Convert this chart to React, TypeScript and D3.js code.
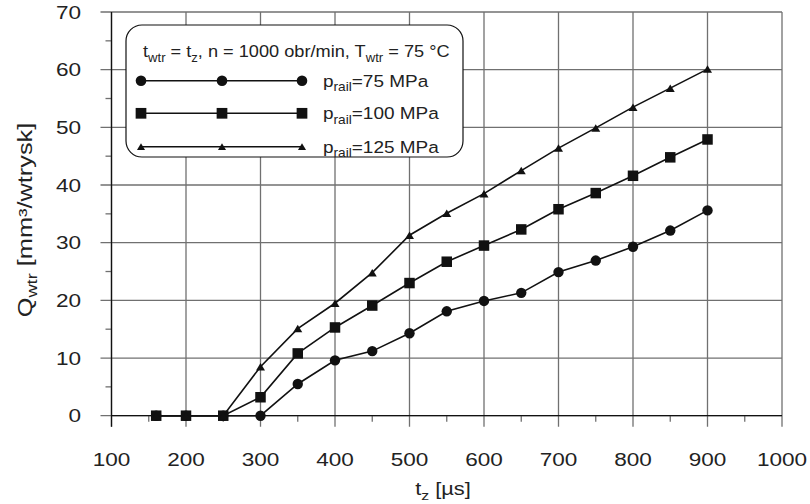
import React from 'react';
import * as d3 from "d3";

// constants
const width = 810;
const height = 504;
const FONT = "'Liberation Sans', Arial, sans-serif";

// data
const tz = [160, 200, 250, 300, 350, 400, 450, 500, 550, 600, 650, 700, 750, 800, 850, 900];
const p75 = [0, 0, 0, 0, 5.5, 9.6, 11.2, 14.3, 18.1, 19.9, 21.3, 24.9, 26.9, 29.3, 32.1, 35.6];
const p100 = [0, 0, 0, 3.2, 10.8, 15.3, 19.1, 23.0, 26.7, 29.5, 32.3, 35.8, 38.6, 41.6, 44.8, 47.9];
const p125 = [0, 0, 0, 8.5, 15.1, 19.5, 24.8, 31.3, 35.1, 38.5, 42.5, 46.4, 49.9, 53.5, 56.8, 60.1];
const seriesLabels = ["75 MPa", "100 MPa", "125 MPa"];
const xTicks = [100, 200, 300, 400, 500, 600, 700, 800, 900, 1000];
const yTicks = [0, 10, 20, 30, 40, 50, 60, 70];

// scales
const x = d3.scaleLinear().domain([100, 1000]).range([111.5, 782]);
const y = d3.scaleLinear().domain([0, 70]).range([415.7, 12]);

const series = [
  { values: p75, shape: "circle", label: seriesLabels[0] },
  { values: p100, shape: "square", label: seriesLabels[1] },
  { values: p125, shape: "triangle", label: seriesLabels[2] },
];

const line = d3.line<number>()
  .x((d, i) => x(tz[i]))
  .y(d => y(d));

const Marker = ({ shape, cx, cy, scale = 1 }: { shape: string, cx: number, cy: number, scale?: number }) => {
  if (shape === "circle") return <circle cx={cx} cy={cy} r={5.2 * scale} fill="#111" />;
  if (shape === "square") {
    const s = 10.5 * scale;
    return <rect x={cx - s / 2} y={cy - s / 2} width={s} height={s} fill="#111" />;
  }
  const w = 9 * scale, h = 7.5 * scale;
  return <path d={`M${cx - w / 2},${cy + h / 2}L${cx},${cy - h / 2}L${cx + w / 2},${cy + h / 2}Z`} fill="#111" />;
};

// text stretched along its reading direction; parts: [text, isSub]
const T = ({ x, y, size, anchor = "start", sx = 1.22, rotate = 0, parts }: any) => {
  const shift = size * 0.28;
  let prevSub = false;
  return (
    <text
      transform={`translate(${x},${y}) rotate(${rotate}) scale(${sx},1)`}
      fontFamily={FONT} fontSize={size} textAnchor={anchor} fill="#222"
    >
      {parts.map(([txt, sub]: [string, boolean], i: number) => {
        const dy = sub && !prevSub ? shift : !sub && prevSub ? -shift : 0;
        prevSub = sub;
        return <tspan key={i} dy={dy} fontSize={sub ? size * 0.72 : size}>{txt}</tspan>;
      })}
    </text>
  );
};

const App = () => {
  const minorX = d3.range(150, 1000, 100);
  const minorY = d3.range(5, 70, 10);
  const legend = { x: 126, y: 25, w: 337, h: 132 };
  const rows = [80.7, 113.3, 146.7];

  return (
    <svg width={width} height={height} style={{ position: "absolute", left: 0, top: 0, background: "#fff" }}>
      {/* grid */}
      <g stroke="#707070" strokeWidth={1.3}>
        {yTicks.map(t => <line key={"gy" + t} x1={x(100) - 11} x2={x(1000)} y1={y(t)} y2={y(t)} />)}
        {xTicks.map(t => <line key={"gx" + t} x1={x(t)} x2={x(t)} y1={y(70)} y2={y(0) + 11} />)}
        {minorX.map(t => <line key={"mx" + t} x1={x(t)} x2={x(t)} y1={y(0)} y2={y(0) + 6} />)}
        {minorY.map(t => <line key={"my" + t} x1={x(100) - 6} x2={x(100)} y1={y(t)} y2={y(t)} />)}
      </g>
      {/* axes */}
      <g stroke="#111" strokeWidth={1.3}>
        <line x1={x(100)} x2={x(100)} y1={y(70)} y2={y(0) + 11} />
        <line x1={x(100)} x2={x(1000)} y1={y(0)} y2={y(0)} />
      </g>

      {/* tick labels */}
      {xTicks.map(t => <T key={"xl" + t} x={x(t)} y={466} size={18.5} anchor="middle" parts={[[String(t), false]]} />)}
      {yTicks.map(t => <T key={"yl" + t} x={81} y={y(t) + 6.6} size={18.5} anchor="end" parts={[[String(t), false]]} />)}

      {/* axis titles */}
      <T x={443} y={495} size={19} anchor="middle" sx={1.15} parts={[["t", false], ["z", true], [" [µs]", false]]} />
      <T x={31.7} y={220} size={19.5} anchor="middle" rotate={-90} sx={1.3}
        parts={[["Q", false], ["wtr", true], [" [mm³/wtrysk]", false]]} />

      {/* series */}
      {series.map((s, si) => (
        <g key={"s" + si}>
          <path d={line(s.values) || ""} fill="none" stroke="#111" strokeWidth={1.6} />
          {s.values.map((v, i) => <Marker key={i} shape={s.shape} cx={x(tz[i])} cy={y(v)} />)}
        </g>
      ))}

      {/* legend */}
      <rect x={legend.x} y={legend.y} width={legend.w} height={legend.h} rx={16} fill="#fff" stroke="#111" strokeWidth={1.2} />
      <T x={143} y={57} size={17} sx={1.07}
        parts={[["t", false], ["wtr", true], [" = t", false], ["z", true], [", n = 1000 obr/min, T", false], ["wtr", true], [" = 75 °C", false]]} />
      {series.map((s, si) => (
        <g key={"l" + si}>
          <line x1={141} x2={302} y1={rows[si]} y2={rows[si]} stroke="#111" strokeWidth={1.6} />
          {[141, 222, 302].map(px => <Marker key={px} shape={s.shape} cx={px} cy={rows[si]} scale={s.shape === "triangle" ? 0.9 : 1.02} />)}
          <T x={323} y={rows[si] + 6} size={16.5} sx={1.15}
            parts={[["p", false], ["rail", true], ["=" + s.label, false]]} />
        </g>
      ))}
    </svg>
  );
};

export default App;
